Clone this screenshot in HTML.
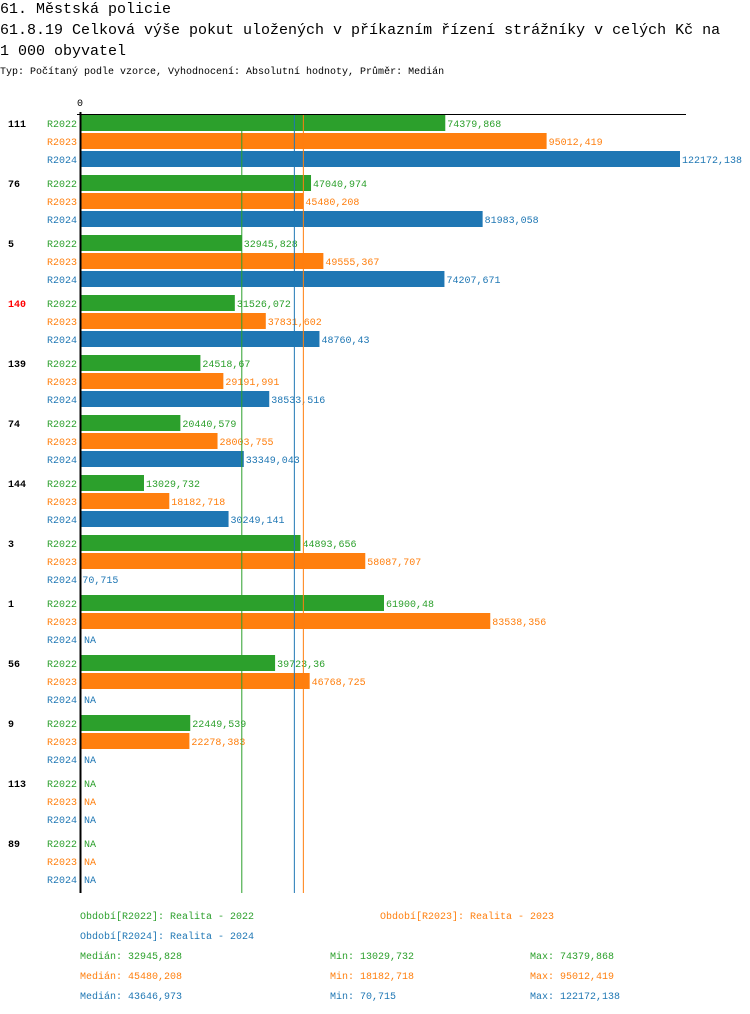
<!DOCTYPE html>
<html><head><meta charset="utf-8"><style>
body{margin:0;background:#fff;width:750px;height:1014px;overflow:hidden;font-family:"Liberation Mono",monospace}
.t{position:absolute;left:0px;font-size:15px;line-height:21px;color:#000;white-space:nowrap}
.s{position:absolute;left:0px;top:67px;font-size:10px;white-space:nowrap}
svg{position:absolute;left:0;top:0}
svg text{font-family:"Liberation Mono",monospace;font-size:10px}
</style></head><body>
<div class="t" style="top:-1px">61. Městská policie<br>61.8.19 Celková výše pokut uložených v příkazním řízení strážníky v celých Kč na<br>1 000 obyvatel</div>
<div class="s">Typ: Počítaný podle vzorce, Vyhodnocení: Absolutní hodnoty, Průměr: Medián</div>
<svg id="c" width="750" height="1014"></svg>
<script>
const categories=["111","76","5","140","139","74","144","3","1","56","9","113","89"];
const series=["R2022","R2023","R2024"];
const r2022=[74379.868,47040.974,32945.828,31526.072,24518.67,20440.579,13029.732,44893.656,61900.48,39723.36,22449.539,null,null];
const r2023=[95012.419,45480.208,49555.367,37831.602,29191.991,28003.755,18182.718,58087.707,83538.356,46768.725,22278.383,null,null];
const r2024=[122172.138,81983.058,74207.671,48760.43,38533.516,33349.043,30249.141,70.715,null,null,null,null,null];
const medians=[32945.828,45480.208,43646.973];
const mins=[13029.732,18182.718,70.715];
const maxs=[74379.868,95012.419,122172.138];
const colors=["#2ca02c","#ff7f0e","#1f77b4"];
const highlight="140";
const svg=document.getElementById('c');const NS="http://www.w3.org/2000/svg";
const x0=80,xr=600/122172.138;
const X=v=>x0+v*xr;
const fmt=v=>String(v).replace('.',',');
function el(t,a,txt){const e=document.createElementNS(NS,t);for(const k in a)e.setAttribute(k,a[k]);if(txt!=null)e.textContent=txt;svg.appendChild(e);return e;}
const vals=[r2022,r2023,r2024];
categories.forEach((c,g)=>{
 const top=115+60*g;
 const gl=el('text',{x:8,y:top+12,'font-weight':'bold','font-size':'11',fill:c===highlight?'#f00':'#000'},c);
 
 
 series.forEach((s,i)=>{
  const y=top+18*i,v=vals[i][g];
  const sl=el('text',{x:77,y:y+12,'text-anchor':'end',fill:colors[i]},s);
  
  
  if(v==null){
   const n=el('text',{x:84,y:y+12,fill:colors[i]},'NA');
   
   
  }else{
   const b=el('rect',{x:x0,y:y,width:X(v)-x0,height:16,fill:colors[i]});
   
   
   const vl=el('text',{x:X(v)+2,y:y+12,fill:colors[i]},fmt(v));
   
   
  }
 });
});
medians.forEach((m,i)=>{
 const l=el('line',{x1:X(m),x2:X(m),y1:114,y2:893,stroke:colors[i],'stroke-width':1});
 
 
});
const ax=el('line',{x1:77,x2:686,y1:114.5,y2:114.5,stroke:'#000','stroke-width':1});


const ay=el('line',{x1:80.5,x2:80.5,y1:112,y2:893,stroke:'#000','stroke-width':2});


const z=el('text',{x:80,y:106,'text-anchor':'middle',fill:'#000'},'0');


const leg=[["Období[R2022]: Realita - 2022",80,919,0],["Období[R2023]: Realita - 2023",380,919,1],["Období[R2024]: Realita - 2024",80,939,2]];
leg.forEach(d=>{const t=el('text',{x:d[1],y:d[2],fill:colors[d[3]]},d[0]);
 
 });
series.forEach((s,i)=>{
 const y=959+20*i;
 const a=el('text',{x:80,y:y,fill:colors[i]},'Medián: '+fmt(medians[i]));
 
 
 const b=el('text',{x:330,y:y,fill:colors[i]},'Min: '+fmt(mins[i]));
 
 
 const c=el('text',{x:530,y:y,fill:colors[i]},'Max: '+fmt(maxs[i]));
 
 
});
</script>
</body></html>
